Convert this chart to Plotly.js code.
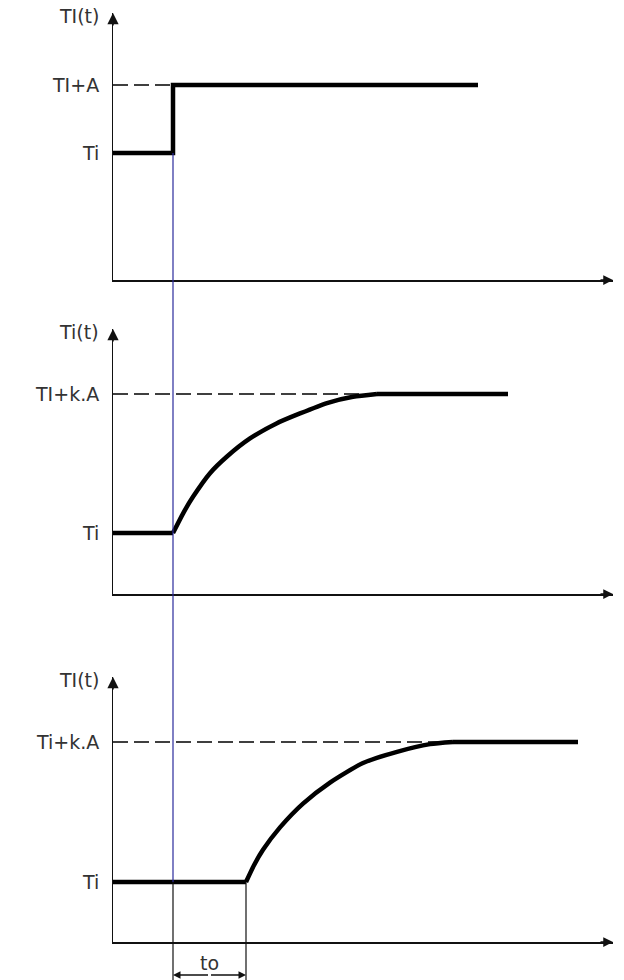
<!DOCTYPE html>
<html><head><meta charset="utf-8">
<script src="https://cdn.plot.ly/plotly-3.0.1.min.js"></script>
<style>html,body{margin:0;padding:0;background:#fff;}#chart{width:624px;height:980px;}</style>
</head><body><div id="chart"></div>
<script>
// ---- data (time units on a common axis, levels normalised: Ti = 0, upper level = 1) ----
const stepT = [0, 60, 60, 365];
const stepY = [0, 0, 1, 1];
const resp2T = [0, 60, 70, 80, 97, 114, 137, 164, 187, 214, 240, 264, 395];
const resp2Y = [0, 0, 0.14, 0.26, 0.43, 0.55, 0.68, 0.79, 0.86, 0.935, 0.98, 1, 1];
const resp3T = [0, 133, 141, 150, 167, 190, 217, 250, 284, 317, 340, 465];
const resp3Y = [0, 0, 0.12, 0.23, 0.39, 0.56, 0.71, 0.85, 0.93, 0.985, 1, 1];
const dash1T = [0, 60];
const dash2T = [0, 264];
const dash3T = [0, 340];
const dashY = [1, 1];
const delayStart = 60, delayEnd = 133;
const axisTitles = ['TI(t)', 'Ti(t)', 'TI(t)'];
const upperLabels = ['TI+A', 'TI+k.A', 'Ti+k.A'];
const lowerLabels = ['Ti', 'Ti', 'Ti'];
const delayLabel = 'to';

// ---- layout geometry (pixels of the 624x980 page) ----
const W = 624, H = 980;
const xLeft = 113, xRight = 613;
const panels = [
  {top: 13,  bottom: 280, base: 153, unit: 68},
  {top: 329, bottom: 594, base: 533, unit: 139},
  {top: 677, bottom: 942, base: 882, unit: 140}
];
panels.forEach(p => {
  p.domain = [1 - p.bottom / H, 1 - p.top / H];
  p.range = [(p.base - p.bottom) / p.unit, (p.base - p.top) / p.unit];
});
function toPaper(i, v) {
  const p = panels[i];
  return p.domain[0] + (v - p.range[0]) / (p.range[1] - p.range[0]) * (p.domain[1] - p.domain[0]);
}

const ink = '#111';
const textFont = {family: 'DejaVu Sans, sans-serif', size: 19, color: '#333'};

const traces = [];
const seriesT = [stepT, resp2T, resp3T];
const seriesY = [stepY, resp2Y, resp3Y];
const dashT = [dash1T, dash2T, dash3T];
const thick = {color: '#000', width: 4.5};
for (let i = 0; i < 3; i++) {
  const xa = i === 0 ? 'x' : 'x' + (i + 1);
  const ya = i === 0 ? 'y' : 'y' + (i + 1);
  traces.push({x: dashT[i], y: dashY, xaxis: xa, yaxis: ya, mode: 'lines',
    line: {color: '#000', width: 1.3, dash: '15px,6px'}, hoverinfo: 'skip', showlegend: false});
  const t = seriesT[i], y = seriesY[i];
  if (i === 0) {
    traces.push({x: t, y: y, xaxis: xa, yaxis: ya, mode: 'lines', line: thick, hoverinfo: 'skip', showlegend: false});
  } else {
    const n = t.length;
    // flat lead-in, smooth response, flat plateau
    traces.push({x: t.slice(0, 2), y: y.slice(0, 2), xaxis: xa, yaxis: ya, mode: 'lines',
      line: thick, hoverinfo: 'skip', showlegend: false});
    traces.push({x: t.slice(1, n - 1), y: y.slice(1, n - 1), xaxis: xa, yaxis: ya, mode: 'lines',
      line: Object.assign({shape: 'spline', smoothing: 0.6}, thick), hoverinfo: 'skip', showlegend: false});
    traces.push({x: t.slice(n - 2), y: y.slice(n - 2), xaxis: xa, yaxis: ya, mode: 'lines',
      line: thick, hoverinfo: 'skip', showlegend: false});
  }
}

const layout = {
  width: W, height: H,
  margin: {l: 0, r: 0, t: 0, b: 0},
  paper_bgcolor: '#fff', plot_bgcolor: '#fff',
  showlegend: false,
  shapes: [], annotations: []
};
for (let i = 0; i < 3; i++) {
  const sfx = i === 0 ? '' : String(i + 1);
  layout['xaxis' + sfx] = {domain: [xLeft / W, xRight / W], range: [0, xRight - xLeft],
    anchor: 'y' + sfx, showline: true, linecolor: ink, linewidth: 1.5, showgrid: false,
    zeroline: false, showticklabels: false, ticks: ''};
  layout['yaxis' + sfx] = {domain: panels[i].domain, range: panels[i].range,
    anchor: 'x' + sfx, showline: true, linecolor: ink, linewidth: 1.5, showgrid: false,
    zeroline: false, showticklabels: false, ticks: ''};
  const xr = 'x' + sfx, yr = 'y' + sfx;
  // axis arrowheads
  layout.annotations.push({x: 0, y: panels[i].range[1], xref: xr, yref: yr, ax: 0, ay: 14,
    axref: 'pixel', ayref: 'pixel', showarrow: true, arrowhead: 2, arrowsize: 1.4,
    arrowwidth: 1.6, arrowcolor: ink, standoff: 0, text: ''});
  layout.annotations.push({x: xRight - xLeft, y: panels[i].range[0], xref: xr, yref: yr, ax: -14, ay: 0,
    showarrow: true, arrowhead: 2, arrowsize: 1.3, arrowwidth: 1.5, arrowcolor: ink, standoff: 0, text: ''});
  // labels
  layout.annotations.push({x: 101 / W, xref: 'paper', y: panels[i].range[1], yref: yr,
    text: axisTitles[i], showarrow: false, xanchor: 'right', yanchor: 'middle', yshift: -3, font: textFont});
  layout.annotations.push({x: 101 / W, xref: 'paper', y: 1, yref: yr,
    text: upperLabels[i], showarrow: false, xanchor: 'right', yanchor: 'middle', font: textFont});
  layout.annotations.push({x: 101 / W, xref: 'paper', y: 0, yref: yr,
    text: lowerLabels[i], showarrow: false, xanchor: 'right', yanchor: 'middle', font: textFont});
}
// blue time-reference line from first step down to the third panel base level
layout.shapes.push({type: 'line', xref: 'x', yref: 'paper', x0: delayStart, x1: delayStart,
  y0: toPaper(0, 0), y1: toPaper(2, 0), line: {color: '#2a2a9c', width: 1.2}});
// extension lines for the delay dimension
layout.shapes.push({type: 'line', xref: 'x', yref: 'paper', x0: delayStart, x1: delayStart,
  y0: toPaper(2, 0), y1: 0, line: {color: ink, width: 1.2}});
layout.shapes.push({type: 'line', xref: 'x', yref: 'paper', x0: delayEnd, x1: delayEnd,
  y0: toPaper(2, 0), y1: 0, line: {color: ink, width: 1.2}});
// dimension arrows
const dimY = 1 - 975 / H;
const mid = (delayStart + delayEnd) / 2;
[delayStart, delayEnd].forEach(xe => {
  layout.annotations.push({x: xe, y: dimY, xref: 'x', yref: 'paper', ax: mid, ay: dimY,
    axref: 'x', ayref: 'paper', showarrow: true, arrowhead: 2, arrowsize: 1, arrowwidth: 1.5,
    arrowcolor: ink, standoff: 0, text: ''});
});
layout.annotations.push({x: mid, y: 1 - 963 / H, xref: 'x', yref: 'paper', text: delayLabel,
  showarrow: false, xanchor: 'center', yanchor: 'middle', font: textFont});

Plotly.newPlot('chart', traces, layout, {staticPlot: true, displayModeBar: false});
</script></body></html>
